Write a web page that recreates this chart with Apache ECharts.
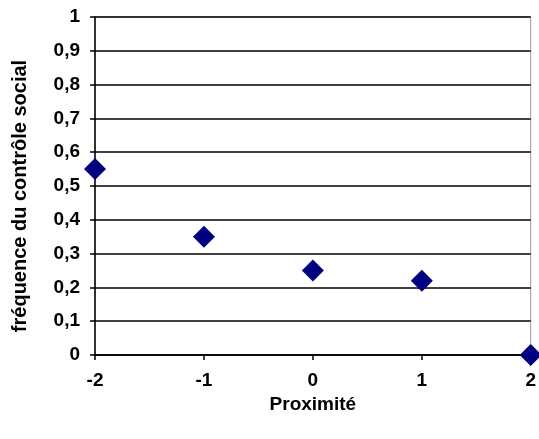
<!DOCTYPE html>
<html>
<head>
<meta charset="utf-8">
<script src="https://cdn.jsdelivr.net/npm/echarts@6/dist/echarts.min.js"></script>
<style>
  html, body { margin: 0; padding: 0; background: #fff; }
  #chart { width: 539px; height: 439px; }
</style>
</head>
<body>
<div id="chart"></div>
<script>
// Proximity classes and observed frequency of social control
const proximite = [-2, -1, 0, 1, 2];
const frequence = [0.55, 0.35, 0.25, 0.22, 0];

const xTitle = 'Proximité';
const yTitle = 'fréquence du contrôle social';

const fmt = v => String(Math.round(v * 10) / 10).replace('.', ',');
const labelFont = { fontFamily: 'Liberation Sans', fontWeight: 'bold', fontSize: 19, color: '#000' };

const chart = echarts.init(document.getElementById('chart'), null, { renderer: 'canvas' });
chart.setOption({
  backgroundColor: '#ffffff',
  animation: false,
  grid: { left: 95, right: 6, top: 17, bottom: 84, show: true, borderColor: '#999', borderWidth: 1 },
  xAxis: {
    type: 'value', min: -2, max: 2, interval: 1,
    name: xTitle, nameLocation: 'middle', nameGap: 40,
    nameTextStyle: Object.assign({}, labelFont),
    axisLine: { onZero: false, lineStyle: { color: '#000', width: 1.5 } },
    axisTick: { show: true, length: 5, lineStyle: { color: '#000', width: 1.5 } },
    axisLabel: Object.assign({ margin: 16 }, labelFont),
    splitLine: { show: false }
  },
  yAxis: {
    type: 'value', min: 0, max: 1, interval: 0.1,
    axisLine: { show: true, onZero: false, lineStyle: { color: '#000', width: 1.5 } },
    axisTick: { show: true, length: 5, lineStyle: { color: '#000', width: 1.5 } },
    axisLabel: Object.assign({ margin: 15, formatter: fmt }, labelFont),
    splitLine: { show: true, lineStyle: { color: '#000', width: 1.5 } }
  },
  graphic: [{
    type: 'text',
    x: 20, y: 196,
    rotation: Math.PI / 2,
    style: {
      text: yTitle,
      fontFamily: 'Liberation Sans', fontWeight: 'bold', fontSize: 20,
      fill: '#000', align: 'center', verticalAlign: 'middle'
    }
  }],
  series: [{
    type: 'scatter',
    data: proximite.map((x, i) => [x, frequence[i]]),
    symbol: 'diamond',
    symbolSize: [22, 22],
    itemStyle: { color: '#000080', opacity: 1 },
    clip: false,
    z: 5
  }]
});
</script>
</body>
</html>
